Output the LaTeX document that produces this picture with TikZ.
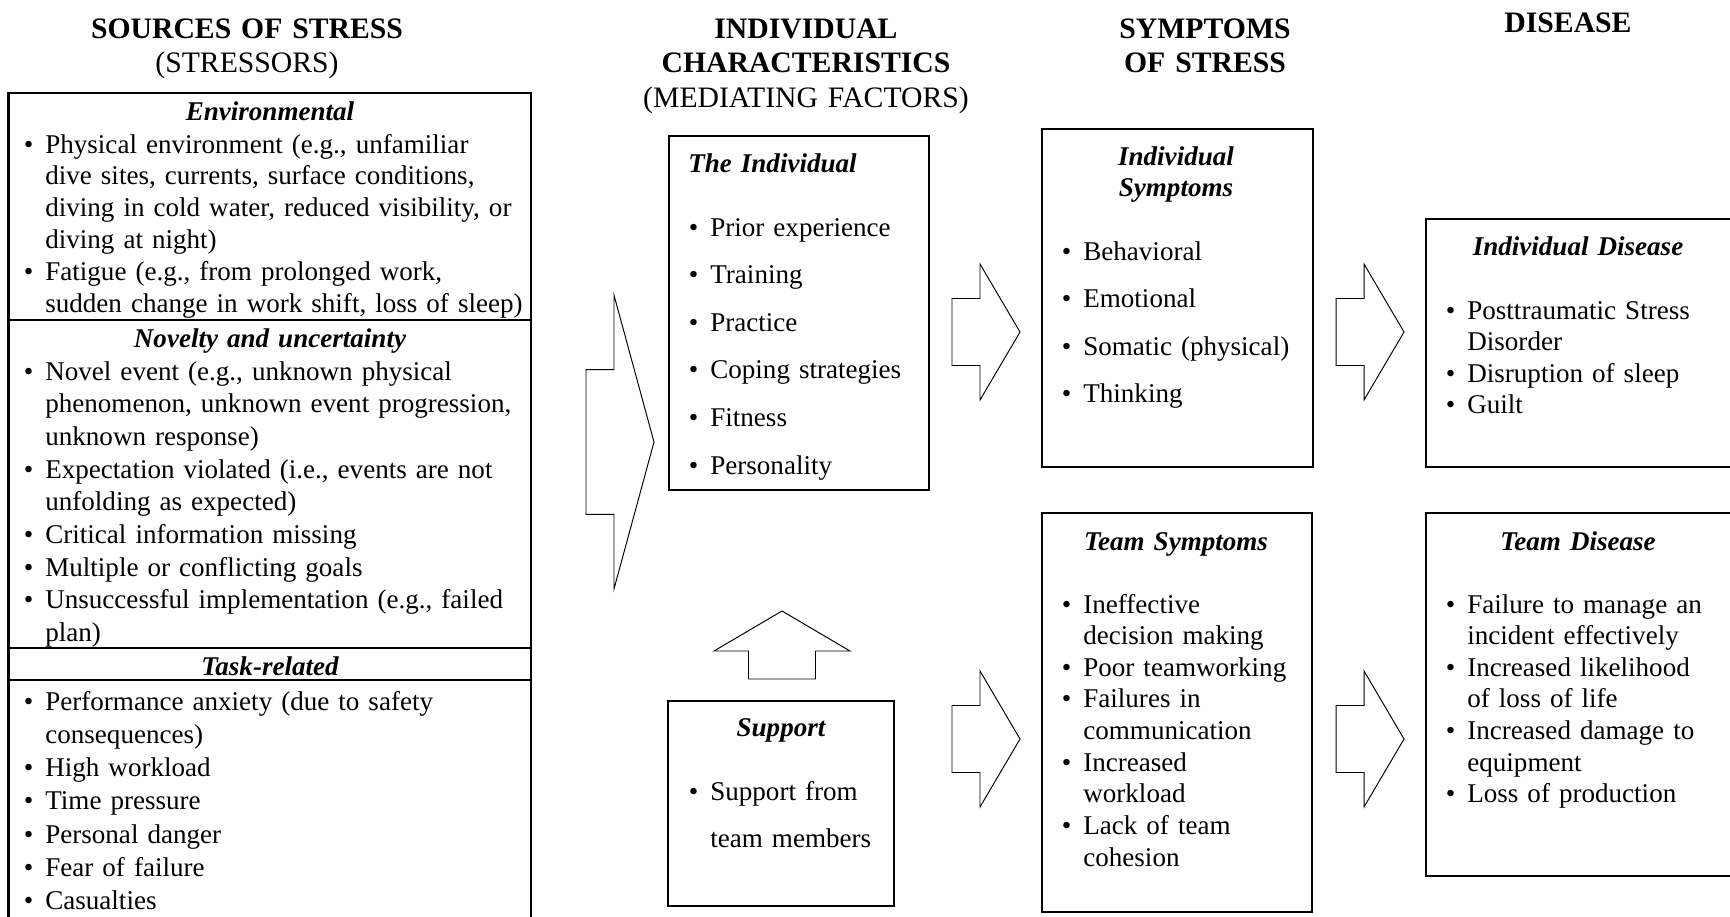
\documentclass[tikz,border=0pt]{standalone}
\usepackage{fontspec}
\setmainfont{Liberation Serif}
\newcommand{\bul}{\leavevmode\llap{\textbullet\hspace{6.8pt}}}
\newcommand{\blockarrow}{(-6.8,3.35) -- (-4,3.35) -- (-4,6.8) -- (0,0) -- (-4,-6.8) -- (-4,-3.35) -- (-6.8,-3.35) -- cycle}

\begin{document}
\begin{tikzpicture}[scale=0.2,
		head/.style={font=\fontsize{16.9}{19.9}\selectfont\bfseries, text width=8cm, align=center, anchor=base},
		ttl/.style={font=\fontsize{15.4}{18.2}\selectfont\bfseries\itshape, text width=8cm, align=center, anchor=base},
		txt/.style={font=\fontsize{15.4}{#1}\selectfont, text width=12cm, align=left, anchor=base west},
		sect/.style={draw=black, line width=1.2pt, minimum width=10.45cm},
		box/.style={draw=black, line width=0.7pt},
		arrowline/.style={draw=black, line width=0.55pt, line join=miter}]
		\tikzstyle{every node}+=[inner sep=0pt]
		\useasboundingbox (0,0) rectangle (173,-91.6);
		\node [head] (hsrc) at (24.7,-3.8) {SOURCES OF STRESS\\\mdseries (STRESSORS)};
		\node [head] (hind) at (80.6,-3.8) {INDIVIDUAL\\CHARACTERISTICS\\\mdseries (MEDIATING FACTORS)};
		\node [head] (hsym) at (120.5,-3.8) {SYMPTOMS\\OF STRESS};
		\node [head] (hdis) at (156.8,-3.2) {DISEASE};
		\node [sect, minimum height=4.54cm] (env) at (26.97,-20.65) {};
		\node [sect, minimum height=6.56cm] (nov) at (26.97,-48.4) {};
		\node [sect, minimum height=0.64cm] (taskhd) at (26.97,-66.4) {};
		\node [sect, minimum height=5cm] (task) at (26.97,-80.5) {};
		\node [ttl] (envt) at (27,-12) {Environmental};
		\node [ttl] (novt) at (27,-34.7) {Novelty and uncertainty};
		\node [ttl] (taskt) at (27,-67.5) {Task-related};
		\node [txt=18.2pt] (envl) at (4.5,-15.3) {\bul Physical environment (e.g., unfamiliar\\dive sites, currents, surface conditions,\\diving in cold water, reduced visibility, or\\diving at night)\\\bul Fatigue (e.g., from prolonged work,\\sudden change in work shift, loss of sleep)};
		\node [txt=18.6pt] (novl) at (4.5,-38) {\bul Novel event (e.g., unknown physical\\phenomenon, unknown event progression,\\unknown response)\\\bul Expectation violated (i.e., events are not\\unfolding as expected)\\\bul Critical information missing\\\bul Multiple or conflicting goals\\\bul Unsuccessful implementation (e.g., failed\\plan)};
		\node [txt=18.95pt] (taskl) at (4.5,-71) {\bul Performance anxiety (due to safety\\consequences)\\\bul High workload\\\bul Time pressure\\\bul Personal danger\\\bul Fear of failure\\\bul Casualties};
		\draw [arrowline, shift={(65.4,-44.2)}, yscale=2.16] \blockarrow;
		\node [box, minimum width=5.2cm, minimum height=7.08cm] (ind) at (79.9,-31.3) {};
		\node [ttl] (indt) at (77.25,-17.2) {The Individual};
		\node [txt=27.1pt] (indl) at (71,-23.6) {\bul Prior experience\\\bul Training\\\bul Practice\\\bul Coping strategies\\\bul Fitness\\\bul Personality};
		\draw [arrowline, shift={(78.2,-61.1)}, rotate=90] \blockarrow;
		\node [box, minimum width=4.52cm, minimum height=4.1cm] (sup) at (78.1,-80.35) {};
		\node [ttl] (supt) at (78.1,-73.6) {Support};
		\node [txt=27.3pt] (supl) at (71,-80) {\bul Support from\\team members};
		\foreach \x/\y in {102/-33.2, 102/-73.9, 140.4/-33.2, 140.4/-73.9}
			\draw [arrowline, shift={(\x,\y)}] \blockarrow;
		\node [box, minimum width=5.42cm, minimum height=6.76cm] (isym) at (117.75,-29.8) {};
		\node [ttl] (isymt) at (117.6,-16.5) {Individual\\Symptoms};
		\node [txt=27.1pt] (isyml) at (108.3,-26) {\bul Behavioral\\\bul Emotional\\\bul Somatic (physical)\\\bul Thinking};
		\node [box, minimum width=5.4cm, minimum height=7.98cm] (tsym) at (117.7,-71.25) {};
		\node [ttl] (tsymt) at (117.6,-55) {Team Symptoms};
		\node [txt=18pt] (tsyml) at (108.3,-61.3) {\bul Ineffective\\decision making\\\bul Poor teamworking\\\bul Failures in\\communication\\\bul Increased\\workload\\\bul Lack of team\\cohesion};
		\node [box, minimum width=6.68cm, minimum height=4.96cm] (idis) at (159.3,-34.3) {};
		\node [ttl] (idist) at (157.8,-25.5) {Individual Disease};
		\node [txt=18pt] (idisl) at (146.7,-31.9) {\bul Posttraumatic Stress\\Disorder\\\bul Disruption of sleep\\\bul Guilt};
		\node [box, minimum width=6.68cm, minimum height=7.26cm] (tdis) at (159.3,-69.45) {};
		\node [ttl] (tdist) at (157.8,-55) {Team Disease};
		\node [txt=18pt] (tdisl) at (146.7,-61.3) {\bul Failure to manage an\\incident effectively\\\bul Increased likelihood\\of loss of life\\\bul Increased damage to\\equipment\\\bul Loss of production};
	\end{tikzpicture}
\end{document}
